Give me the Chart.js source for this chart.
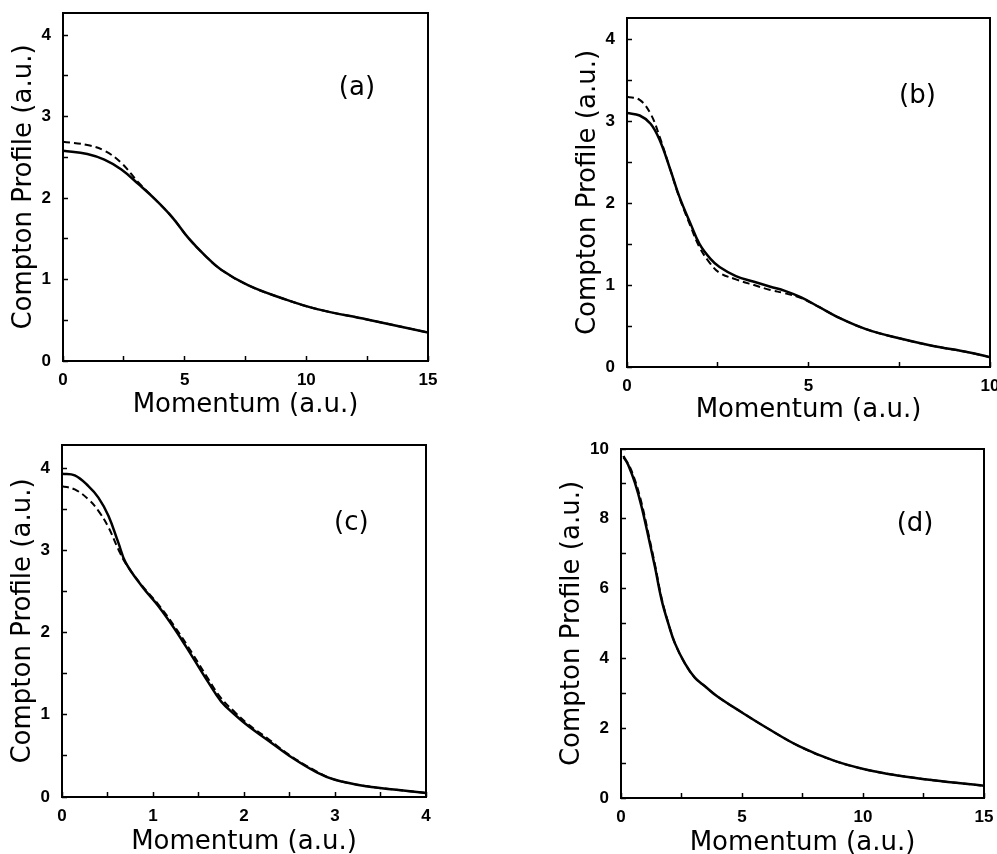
<!DOCTYPE html>
<html>
<head>
<meta charset="utf-8">
<script src="https://cdn.jsdelivr.net/npm/chart.js@4.4.3/dist/chart.umd.min.js"></script>
<style>
  html, body { margin: 0; padding: 0; background: #fff; }
  #wrap { position: relative; width: 997px; height: 854px; overflow: hidden; background: #fff; }
  #wrap canvas { position: absolute; }
</style>
</head>
<body>
<div id="wrap">
  <canvas id="chart-a"></canvas>
  <canvas id="chart-b"></canvas>
  <canvas id="chart-c"></canvas>
  <canvas id="chart-d"></canvas>
</div>
<script>
// Values (solid = one calculation, dashed = the other)

// (a)
const momentumA = [0, 1, 1.7, 2.4, 3.1, 3.8, 4.5, 5.15, 5.85, 6.5, 7.6, 9, 10.4, 12.5, 15];
const solidA    = [2.58, 2.54, 2.47, 2.35, 2.17, 1.98, 1.76, 1.51, 1.29, 1.12, 0.93, 0.77, 0.64, 0.51, 0.35];
const dashedA   = [2.69, 2.65, 2.58, 2.43, 2.19, 1.98, 1.76, 1.51, 1.29, 1.12, 0.93, 0.77, 0.64, 0.51, 0.35];

// (b)
const momentumB = [0, 0.35, 0.65, 0.9, 1.2, 1.45, 1.75, 2.0, 2.3, 2.55, 3.0, 3.5, 3.95, 4.35, 4.8, 5.3, 5.8, 6.6, 7.5, 8.4, 9.4, 10];
const solidB    = [3.10, 3.07, 2.97, 2.77, 2.40, 2.07, 1.75, 1.50, 1.32, 1.22, 1.11, 1.04, 0.98, 0.93, 0.85, 0.73, 0.61, 0.46, 0.35, 0.26, 0.18, 0.12];
const dashedB   = [3.30, 3.26, 3.09, 2.81, 2.40, 2.06, 1.72, 1.46, 1.26, 1.15, 1.07, 1.00, 0.94, 0.90, 0.84, 0.73, 0.61, 0.46, 0.35, 0.26, 0.18, 0.12];

// (c)
const momentumC = [0, 0.14, 0.29, 0.4, 0.51, 0.62, 0.7, 0.88, 1.06, 1.24, 1.43, 1.61, 1.75, 1.9, 2.05, 2.25, 2.5, 2.8, 3.0, 3.35, 3.7, 4.0];
const solidC    = [3.93, 3.91, 3.78, 3.64, 3.42, 3.09, 2.85, 2.56, 2.32, 2.04, 1.71, 1.39, 1.16, 1.00, 0.86, 0.70, 0.50, 0.30, 0.21, 0.13, 0.085, 0.05];
const dashedC   = [3.78, 3.74, 3.62, 3.48, 3.28, 3.01, 2.84, 2.57, 2.34, 2.07, 1.75, 1.43, 1.20, 1.03, 0.88, 0.72, 0.51, 0.31, 0.21, 0.13, 0.085, 0.05];

// (d)
const momentumD = [0.1, 0.3, 0.58, 0.85, 1.13, 1.4, 1.68, 1.95, 2.23, 2.64, 3.05, 3.47, 4.0, 5.0, 6.0, 7.4, 8.8, 10.15, 11.5, 12.9, 15];
const solidD    = [9.80, 9.54, 9.02, 8.35, 7.49, 6.63, 5.67, 5.01, 4.43, 3.86, 3.45, 3.20, 2.90, 2.45, 2.02, 1.47, 1.07, 0.81, 0.64, 0.51, 0.35];
const dashedD   = [9.75, 9.58, 9.10, 8.45, 7.58, 6.70, 5.72, 5.03, 4.43, 3.86, 3.45, 3.20, 2.90, 2.45, 2.02, 1.47, 1.07, 0.81, 0.64, 0.51, 0.35];

// axes: [max, minor step, labelled every]
const xAxisA = [15, 2.5, 5];
const yAxisA = [4.27, 0.5, 1];
const xAxisB = [10, 2.5, 5];
const yAxisB = [4.26, 0.5, 1];
const xAxisC = [4, 0.5, 1];
const yAxisC = [4.28, 0.5, 1];
const xAxisD = [15, 2.5, 5];
const yAxisD = [10, 1, 2];

const panelLabels = ['(a)', '(b)', '(c)', '(d)'];
const xTitle = 'Momentum (a.u.)';
const yTitle = 'Compton Profile (a.u.)';

// page layout (px): canvas box, plot box, title centres, label anchor in data units
const panels = [
  { id: 'chart-a', box: [0, 0, 497, 427],   plot: [63, 13, 428, 361],  xTitleY: 405, yTitleX: 24,  labelAt: [12.08, 3.35],
    x: momentumA, solid: solidA, dashed: dashedA, xAxis: xAxisA, yAxis: yAxisA },
  { id: 'chart-b', box: [500, 0, 497, 427], plot: [627, 18, 990, 367], xTitleY: 410, yTitleX: 588, labelAt: [8.0, 3.30],
    x: momentumB, solid: solidB, dashed: dashedB, xAxis: xAxisB, yAxis: yAxisB },
  { id: 'chart-c', box: [0, 427, 497, 440], plot: [62, 445, 426, 797], xTitleY: 842, yTitleX: 23,  labelAt: [3.18, 3.33],
    x: momentumC, solid: solidC, dashed: dashedC, xAxis: xAxisC, yAxis: yAxisC },
  { id: 'chart-d', box: [500, 427, 497, 440], plot: [621, 449, 984, 798], xTitleY: 843, yTitleX: 572, labelAt: [12.15, 7.85],
    x: momentumD, solid: solidD, dashed: dashedD, xAxis: xAxisD, yAxis: yAxisD }
];

const INK = '#000';
const TITLE_SIZE = 26;
const TICK_FONT = { family: '"Liberation Sans", Arial, sans-serif', size: 17, weight: 'bold', lineHeight: 1.2 };
const TITLE_FONT = { family: '"DejaVu Sans", sans-serif', size: TITLE_SIZE, lineHeight: 1 };

function onStep(v, step) {
  const r = v / step;
  return Math.abs(r - Math.round(r)) < 1e-6;
}

const framePlugin = {
  id: 'frame',
  afterDraw(chart, args, opts) {
    const { ctx, chartArea: a, scales } = chart;
    ctx.save();
    ctx.strokeStyle = INK;
    ctx.lineWidth = 2;
    ctx.strokeRect(a.left, a.top, a.right - a.left, a.bottom - a.top);
    ctx.fillStyle = INK;
    ctx.font = TITLE_SIZE + 'px "DejaVu Sans", sans-serif';
    ctx.textAlign = 'center';
    ctx.textBaseline = 'middle';
    ctx.fillText(opts.label, scales.x.getPixelForValue(opts.at[0]), scales.y.getPixelForValue(opts.at[1]));
    ctx.restore();
  }
};

function makePanel(p, idx) {
  const [cl, ct, cw, ch] = p.box;
  const [pl, pt, pr, pb] = p.plot;
  const canvas = document.getElementById(p.id);
  canvas.width = cw;
  canvas.height = ch;
  canvas.style.left = cl + 'px';
  canvas.style.top = ct + 'px';

  const yWidth = pl - cl;
  const xHeight = ct + ch - pb;
  const half = TITLE_SIZE / 2;

  const toPts = (ys) => p.x.map((x, i) => ({ x, y: ys[i] }));

  return new Chart(canvas, {
    type: 'line',
    data: {
      datasets: [
        { data: toPts(p.dashed), borderColor: INK, borderWidth: 2, borderDash: [7, 4],
          pointRadius: 0, tension: 0.4, fill: false },
        { data: toPts(p.solid), borderColor: INK, borderWidth: 2.5,
          pointRadius: 0, tension: 0.4, fill: false }
      ]
    },
    options: {
      responsive: false,
      animation: false,
      layout: { padding: { top: pt - ct, right: cl + cw - pr, left: 0, bottom: 0 } },
      plugins: {
        legend: { display: false },
        tooltip: { enabled: false },
        frame: { label: panelLabels[idx], at: p.labelAt }
      },
      scales: {
        x: {
          type: 'linear',
          min: 0,
          max: p.xAxis[0],
          border: { display: false },
          grid: { drawOnChartArea: false, drawTicks: true, tickLength: -5, tickColor: INK, tickWidth: 1.5 },
          ticks: {
            stepSize: p.xAxis[1],
            includeBounds: false,
            autoSkip: false,
            maxRotation: 0,
            padding: 14,
            color: INK,
            font: TICK_FONT,
            callback: (v) => onStep(v, p.xAxis[2]) ? String(Math.round(v)) : ''
          },
          title: {
            display: true, text: xTitle, color: INK, font: TITLE_FONT,
            padding: { top: 0, bottom: Math.max(0, ct + ch - p.xTitleY - half) }
          },
          afterFit: (s) => { s.height = xHeight; s.paddingLeft = 0; s.paddingRight = 0; }
        },
        y: {
          type: 'linear',
          min: 0,
          max: p.yAxis[0],
          border: { display: false },
          grid: { drawOnChartArea: false, drawTicks: true, tickLength: -5, tickColor: INK, tickWidth: 1.5 },
          ticks: {
            stepSize: p.yAxis[1],
            includeBounds: false,
            autoSkip: false,
            padding: 17,
            color: INK,
            font: TICK_FONT,
            callback: (v) => onStep(v, p.yAxis[2]) ? String(Math.round(v)) : ''
          },
          title: {
            display: true, text: yTitle, color: INK, font: TITLE_FONT,
            padding: { top: Math.max(0, p.yTitleX - cl - half), bottom: 0 }
          },
          afterFit: (s) => { s.width = yWidth; s.paddingTop = 0; s.paddingBottom = 0; }
        }
      }
    },
    plugins: [framePlugin]
  });
}

panels.forEach(makePanel);
</script>
</body>
</html>
